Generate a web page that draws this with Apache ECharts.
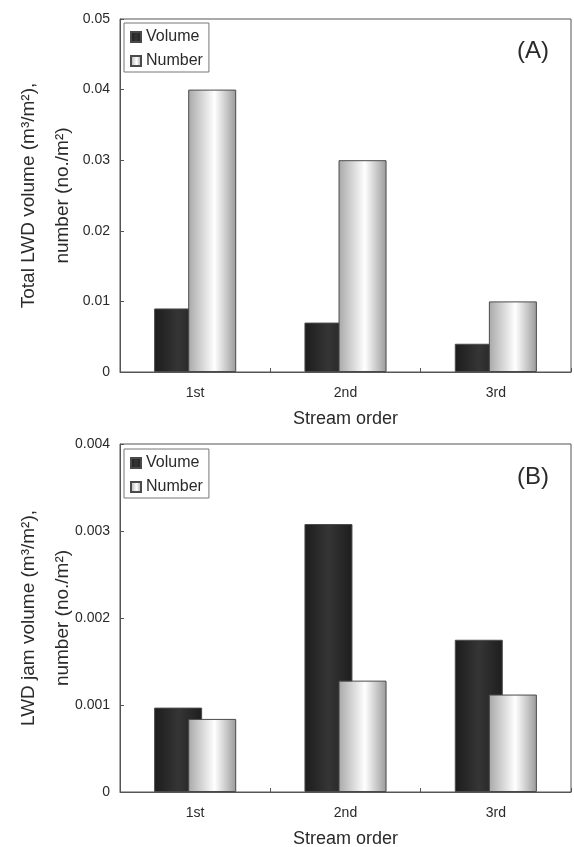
<!DOCTYPE html>
<html>
<head>
<meta charset="utf-8">
<script src="https://cdn.jsdelivr.net/npm/echarts@6/dist/echarts.min.js"></script>
<style>
html,body{margin:0;padding:0;background:#fff;overflow:hidden;}
#c{width:574px;height:847px;}
</style>
</head>
<body>
<div id="c"></div>
<script>
const categories = ['1st', '2nd', '3rd'];
const seriesNames = ['Volume', 'Number'];
const volumeA = [0.009, 0.007, 0.004];
const numberA = [0.04, 0.03, 0.01];
const volumeB = [0.00097, 0.00308, 0.00175];
const numberB = [0.00084, 0.00128, 0.00112];
const yTicksA = { min: 0, max: 0.05, interval: 0.01, decimals: 2 };
const yTicksB = { min: 0, max: 0.004, interval: 0.001, decimals: 3 };
const panelLabels = ['(A)', '(B)'];
const xTitle = 'Stream order';
const yTitleA = 'Total LWD volume (m\u00B3/m\u00B2),\nnumber (no./m\u00B2)';
const yTitleB = 'LWD jam volume (m\u00B3/m\u00B2),\nnumber (no./m\u00B2)';

const FONT = '"Liberation Sans", Arial, sans-serif';
const TXT = '#2a2a2a';
const AX = '#555';

const darkFill = {
  type: 'linear', x: 0, y: 0, x2: 1, y2: 0,
  colorStops: [
    { offset: 0, color: '#1c1c1c' },
    { offset: 0.5, color: '#353535' },
    { offset: 1, color: '#1e1e1e' }
  ]
};
const lightFill = {
  type: 'linear', x: 0, y: 0, x2: 1, y2: 0,
  colorStops: [
    { offset: 0, color: '#a8a8a8' },
    { offset: 0.55, color: '#ffffff' },
    { offset: 1, color: '#9a9a9a' }
  ]
};

function grid(top, height) {
  return { left: 120, right: 3, top: top, height: height, show: true, borderColor: AX, borderWidth: 1,
    containLabel: false, outerBoundsMode: 'none' };
}
function xAxis(gi) {
  return {
    type: 'category', gridIndex: gi, data: categories, boundaryGap: true,
    axisLine: { show: true, lineStyle: { color: AX, width: 1 } },
    axisTick: { show: true, inside: true, length: 4, lineStyle: { color: AX } },
    axisLabel: { color: TXT, fontFamily: FONT, fontSize: 14, margin: 14 },
    name: xTitle, nameLocation: 'middle', nameGap: 38, nameMoveOverlap: false,
    nameTextStyle: { color: TXT, fontFamily: FONT, fontSize: 18 },
    splitLine: { show: false }
  };
}
function yAxis(gi, t, title) {
  return {
    type: 'value', gridIndex: gi, min: t.min, max: t.max, interval: t.interval,
    axisLine: { show: true, lineStyle: { color: AX, width: 1 } },
    axisTick: { show: true, inside: true, length: 4, lineStyle: { color: AX } },
    axisLabel: { color: TXT, fontFamily: FONT, fontSize: 14, margin: 10,
      formatter: v => v === 0 ? '0' : v.toFixed(t.decimals) },
    splitLine: { show: false },
    name: title, nameLocation: 'middle', nameRotate: 90, nameGap: 40, nameMoveOverlap: false,
    nameTextStyle: { color: TXT, fontFamily: FONT, fontSize: 19, lineHeight: 34, align: 'center' }
  };
}
function legend(top) {
  return {
    orient: 'vertical', left: 124, top: top, data: seriesNames,
    itemWidth: 10, itemHeight: 10, itemGap: 8,
    padding: [6, 6, 3, 6],
    borderColor: '#777', borderWidth: 1, backgroundColor: '#fff',
    textStyle: { color: TXT, fontFamily: FONT, fontSize: 16, lineHeight: 16 },
    icon: 'rect', selectedMode: false
  };
}
function bar(name, data, gi, fill) {
  return {
    type: 'bar', name: name, data: data, xAxisIndex: gi, yAxisIndex: gi,
    barWidth: 48, barGap: '-29%',
    itemStyle: { color: fill, borderColor: '#4a4a4a', borderWidth: 1 },
    emphasis: { disabled: true }, animation: false
  };
}

const chart = echarts.init(document.getElementById('c'), null, { renderer: 'canvas' });
chart.setOption({
  animation: false,
  backgroundColor: '#fff',
  textStyle: { fontFamily: FONT },
  title: [
    { text: panelLabels[0], left: 517, top: 39, padding: 0, textStyle: { fontSize: 24, fontWeight: 'normal', color: TXT, fontFamily: FONT } },
    { text: panelLabels[1], left: 517, top: 465, padding: 0, textStyle: { fontSize: 24, fontWeight: 'normal', color: TXT, fontFamily: FONT } }
  ],
  legend: [legend(23), legend(449)],
  grid: [grid(19, 353), grid(444, 348)],
  xAxis: [xAxis(0), xAxis(1)],
  yAxis: [yAxis(0, yTicksA, yTitleA), yAxis(1, yTicksB, yTitleB)],
  series: [
    bar(seriesNames[0], volumeA, 0, darkFill),
    bar(seriesNames[1], numberA, 0, lightFill),
    bar(seriesNames[0], volumeB, 1, darkFill),
    bar(seriesNames[1], numberB, 1, lightFill)
  ]
});
</script>
</body>
</html>
